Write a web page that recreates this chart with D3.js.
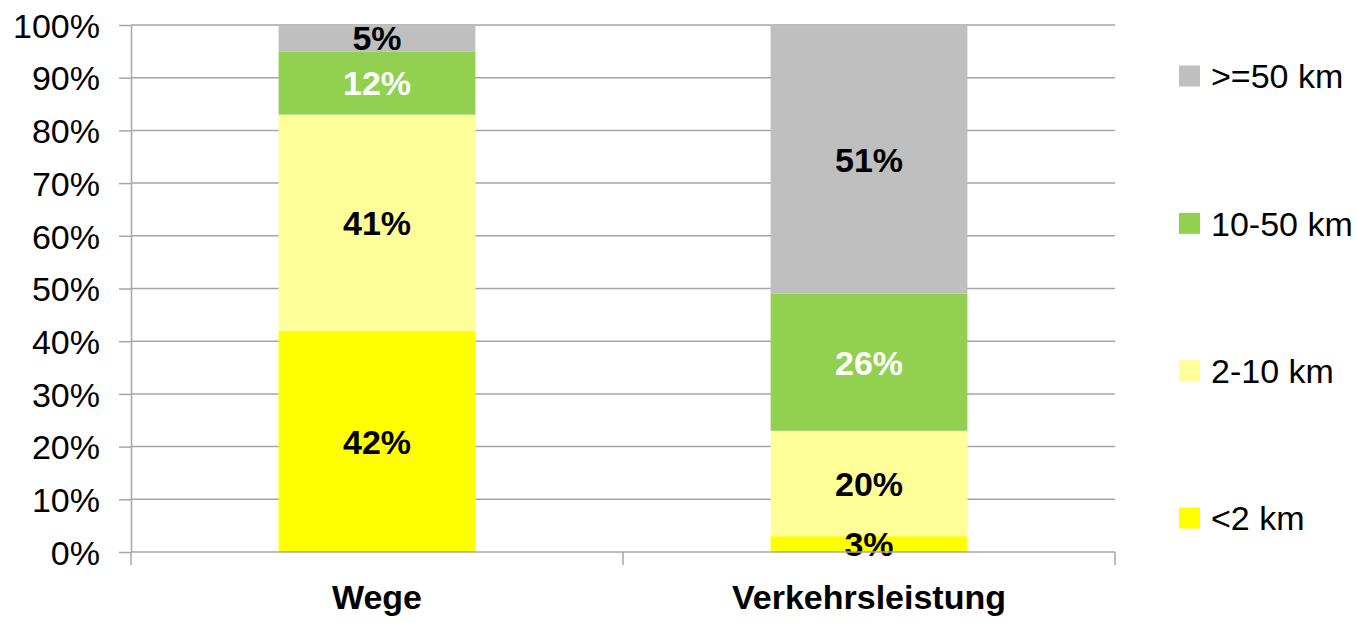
<!DOCTYPE html>
<html>
<head>
    <meta charset="utf-8">
    <title>Wege und Verkehrsleistung nach Entfernung</title>
    <script src="https://cdn.jsdelivr.net/npm/d3@7"></script>
    <style>
        body {
            margin: 0;
            background: #fff;
        }

        svg text {
            font-family: "Liberation Sans", Arial, sans-serif;
        }

        .grid line {
            stroke: #a6a6a6;
            stroke-width: 1.5px;
        }

        .axis path, .axis line {
            stroke: #a6a6a6;
            stroke-width: 1.5px;
        }

        .axis text {
            font-size: 34px;
            fill: #000;
        }
    </style>
</head>
<body>

<script>
    var categories = ["Wege", "Verkehrsleistung"];
    var seriesNames = ["<2 km", "2-10 km", "10-50 km", ">=50 km"];
    var seriesColors = ["#ffff00", "#ffff99", "#92d050", "#bfbfbf"];
    var labelColors = ["#000", "#000", "#fff", "#000"];
    // shares in percent, one array per series, order = categories
    var under2 = [42, 3];
    var from2to10 = [41, 20];
    var from10to50 = [12, 26];
    var over50 = [5, 51];
    var yTicks = [0, 10, 20, 30, 40, 50, 60, 70, 80, 90, 100];

    var width = 1357,
        height = 623,
        margin = {top: 25, right: 242, bottom: 71, left: 131};

    var rows = categories.map(function (c, i) {
        return {cat: c, s0: under2[i], s1: from2to10[i], s2: from10to50[i], s3: over50[i]};
    });
    var stack = d3.stack().keys(["s0", "s1", "s2", "s3"])(rows);

    var svg = d3.select("body").append("svg")
        .attr("width", width)
        .attr("height", height);

    var x = d3.scaleBand()
        .domain(categories)
        .range([margin.left, width - margin.right])
        .padding(0);

    var y = d3.scaleLinear()
        .domain([0, 100])
        .range([height - margin.bottom, margin.top]);

    // gridlines
    svg.append("g")
        .attr("class", "grid")
        .selectAll("line")
        .data(yTicks.slice(1))
        .enter().append("line")
        .attr("x1", margin.left)
        .attr("x2", width - margin.right)
        .attr("y1", function (d) { return y(d); })
        .attr("y2", function (d) { return y(d); });

    // bars
    var barW = x.bandwidth() * 0.4;
    var layer = svg.append("g").selectAll("g")
        .data(stack)
        .enter().append("g")
        .attr("fill", function (d, i) { return seriesColors[i]; });

    layer.selectAll("rect")
        .data(function (d) { return d; })
        .enter().append("rect")
        .attr("x", function (d) { return x(d.data.cat) + (x.bandwidth() - barW) / 2; })
        .attr("width", barW)
        .attr("y", function (d) { return y(d[1]); })
        .attr("height", function (d) { return y(d[0]) - y(d[1]); });

    // value labels
    stack.forEach(function (s, si) {
        svg.append("g").selectAll("text")
            .data(s)
            .enter().append("text")
            .attr("x", function (d) { return x(d.data.cat) + x.bandwidth() / 2; })
            .attr("y", function (d) { return y((d[0] + d[1]) / 2); })
            .attr("dy", "0.36em")
            .attr("text-anchor", "middle")
            .style("font-size", "34px")
            .style("font-weight", "bold")
            .attr("fill", labelColors[si])
            .text(function (d) { return (d[1] - d[0]) + "%"; });
    });

    // y axis
    var yAxis = svg.append("g")
        .attr("class", "axis")
        .attr("transform", "translate(" + margin.left + ",0)")
        .call(d3.axisLeft(y).tickValues(yTicks)
            .tickFormat(function (d) { return d + "%"; })
            .tickSize(12).tickSizeOuter(0).tickPadding(19));
    yAxis.selectAll("text").attr("dy", "0.36em");

    // x axis
    var xAxis = svg.append("g")
        .attr("class", "axis")
        .attr("transform", "translate(0," + y(0) + ")");
    xAxis.append("line")
        .attr("x1", margin.left).attr("x2", width - margin.right);
    xAxis.selectAll(".tk")
        .data([margin.left, margin.left + x.step(), width - margin.right])
        .enter().append("line")
        .attr("x1", function (d) { return d; })
        .attr("x2", function (d) { return d; })
        .attr("y1", 0).attr("y2", 13);
    xAxis.selectAll(".cat")
        .data(categories)
        .enter().append("text")
        .attr("x", function (d) { return x(d) + x.bandwidth() / 2; })
        .attr("y", 57)
        .attr("text-anchor", "middle")
        .style("font-weight", "bold")
        .text(function (d) { return d; });

    // legend, top entry is the last series
    var legend = svg.append("g")
        .attr("transform", "translate(1179,0)");
    var legendY = d3.scalePoint()
        .domain(seriesNames.slice().reverse())
        .range([76, 518]);

    var item = legend.selectAll("g")
        .data(seriesNames)
        .enter().append("g")
        .attr("transform", function (d) { return "translate(0," + legendY(d) + ")"; });
    item.append("rect")
        .attr("x", 0).attr("y", -10.5)
        .attr("width", 21).attr("height", 21)
        .attr("fill", function (d, i) { return seriesColors[i]; });
    item.append("text")
        .attr("x", 32)
        .attr("dy", "0.36em")
        .style("font-size", "34px")
        .attr("fill", "#000")
        .text(function (d) { return d; });
</script>

</body>
</html>
